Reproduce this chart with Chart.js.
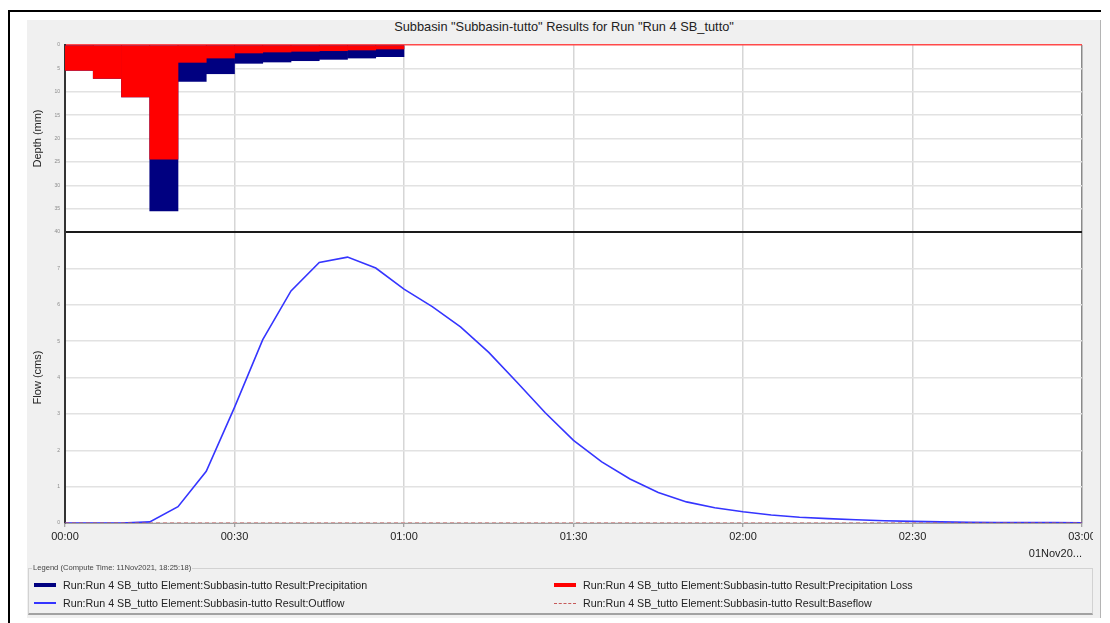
<!DOCTYPE html>
<html>
<head>
<meta charset="utf-8">
<title>Subbasin results</title>
<script src="https://cdn.jsdelivr.net/npm/chart.js@4.4.0/dist/chart.umd.min.js"></script>
<style>
  html, body { margin: 0; padding: 0; background: #fff; width: 1110px; height: 623px; overflow: hidden;
               font-family: "Liberation Sans", Arial, sans-serif; }
  #frame { position: absolute; left: 8px; top: 10px; width: 1093px; height: 620px;
           border-left: 2px solid #000; border-top: 2px solid #000; box-sizing: border-box; }
  #panel { position: absolute; left: 27px; top: 20px; width: 1074px; height: 598px; background: #f0f0f0;
           border-right: 1px solid #b4b4b4; box-sizing: border-box; }
  #title { position: absolute; left: 27px; top: 19px; width: 1074px; text-align: center;
           font-size: 12.8px; color: #222; line-height: 15px; }
  #wrap { position: absolute; left: 27px; top: 20px; width: 1066px; height: 545px; overflow: hidden; }
  #legend { position: absolute; left: 28px; top: 568px; width: 1065px; height: 47px; box-sizing: border-box;
            border: 1px solid #d2d2d2; border-bottom: 2px solid #a2a2a2; background: #f0f0f0; }
  #legend .cap { position: absolute; left: 3px; top: -5px; font-size: 7.6px; line-height: 8px; color: #444;
                 background: #f0f0f0; padding: 0 1px; }
  #legend .item { position: absolute; font-size: 10.7px; line-height: 12px; color: #222; white-space: nowrap; }
  #legend .sw { position: absolute; left: 0; width: 22px; }
  #legend .txt { position: absolute; left: 29px; top: 0; }
</style>
</head>
<body>
<div id="frame"></div>
<div id="panel"></div>
<div id="title">Subbasin "Subbasin-tutto" Results for Run "Run 4 SB_tutto"</div>
<div id="wrap"><canvas id="chart" width="1085" height="545"></canvas></div>
<div id="legend"><span class="cap">Legend (Compute Time: 11Nov2021, 18:25:18)</span></div>

<script>
// Simulation time steps (minutes after 00:00, 01Nov)
const flowTimes = [0, 5, 10, 15, 20, 25, 30, 35, 40, 45, 50, 55, 60, 65, 70, 75, 80, 85, 90,
                   95, 100, 105, 110, 115, 120, 125, 130, 135, 140, 145, 150, 155, 160, 165, 170, 175, 180];
// Outflow hydrograph (cms)
const outflow = [0, 0, 0, 0.03, 0.45, 1.42, 3.18, 5.04, 6.38, 7.16, 7.31, 7.01, 6.43, 5.95, 5.39, 4.69,
                 3.87, 3.03, 2.27, 1.68, 1.21, 0.84, 0.58, 0.42, 0.31, 0.22, 0.16, 0.12, 0.09, 0.06,
                 0.045, 0.03, 0.02, 0.015, 0.01, 0.01, 0.005];
// Baseflow (cms)
const baseflow = [0, 0, 0, 0, 0, 0, 0, 0, 0, 0, 0, 0, 0, 0, 0, 0, 0, 0, 0,
                  0, 0, 0, 0, 0, 0, 0, 0, 0, 0, 0, 0, 0, 0, 0, 0, 0, 0];

// Rainfall intervals: start / end minute of each 5-minute block
const rainStart = [0, 5, 10, 15, 20, 25, 30, 35, 40, 45, 50, 55];
const rainEnd   = [5, 10, 15, 20, 25, 30, 35, 40, 45, 50, 55, 60];
// Depth per interval (mm)
const precipitation = [5.42, 7.14, 11.08, 35.5, 7.78, 6.15, 3.92, 3.64, 3.36, 3.07, 2.79, 2.5];
const precipLoss    = [5.42, 7.14, 11.08, 24.43, 3.71, 2.79, 1.71, 1.5, 1.35, 1.22, 1.07, 0.86];

// Axis ranges / tick steps
const timeMax = 180, timeStep = 30;
const depthMax = 40, depthStep = 5;
const flowMax = 8, flowStep = 1;

const seriesPrefix = 'Run:Run 4 SB_tutto Element:Subbasin-tutto Result:';
const COL = { navy: '#000080', red: '#ff0000', flow: '#3535ff', base: '#c65a5a' };

const hhmm = v => String(Math.floor(v / 60)).padStart(2, '0') + ':' + String(v % 60).padStart(2, '0');
const mid = (a, b) => (a + b) / 2;
const pts = (xs, ys) => xs.map((x, i) => ({ x, y: ys[i] }));
const bars = ys => ys.map((y, i) => ({ x: mid(rainStart[i], rainEnd[i]), y }));

const font = { family: '"Liberation Sans", Arial, sans-serif' };

// White plotting area on the grey panel
const plotBackground = {
  id: 'plotBackground',
  beforeDraw(c) {
    const { ctx, chartArea: a } = c;
    ctx.save();
    ctx.fillStyle = '#ffffff';
    ctx.fillRect(a.left, a.top, a.right - a.left, a.bottom - a.top);
    ctx.restore();
  }
};

const chart = new Chart(document.getElementById('chart'), {
  type: 'line',
  plugins: [plotBackground],
  data: {
    datasets: [
      { type: 'bar', label: seriesPrefix + 'Precipitation', data: bars(precipitation),
        xAxisID: 'x', yAxisID: 'yDepth', backgroundColor: COL.navy, borderWidth: 0,
        barPercentage: 1, categoryPercentage: 1, grouped: false, order: 4, legendSwatch: 'thick' },
      { type: 'bar', label: seriesPrefix + 'Precipitation Loss', data: bars(precipLoss),
        xAxisID: 'x', yAxisID: 'yDepth', backgroundColor: COL.red, borderWidth: 0,
        barPercentage: 1, categoryPercentage: 1, grouped: false, order: 3, legendSwatch: 'thick' },
      { type: 'line', label: seriesPrefix + 'Outflow', data: pts(flowTimes, outflow),
        xAxisID: 'x', yAxisID: 'yFlow', borderColor: COL.flow, borderWidth: 1.6,
        pointRadius: 0, tension: 0, fill: false, order: 2, legendSwatch: 'line' },
      { type: 'line', label: seriesPrefix + 'Baseflow', data: pts(flowTimes, baseflow),
        xAxisID: 'x', yAxisID: 'yFlow', borderColor: COL.base, borderWidth: 1, borderDash: [4, 3],
        pointRadius: 0, tension: 0, fill: false, order: 1, legendSwatch: 'dash' }
    ]
  },
  options: {
    responsive: false,
    animation: false,
    devicePixelRatio: 1,
    layout: { padding: { top: 25, right: 30, left: 0, bottom: 0 } },
    plugins: { legend: { display: false }, tooltip: { enabled: false }, title: { display: false } },
    scales: {
      x: {
        type: 'linear', min: 0, max: timeMax, offset: false,
        ticks: { stepSize: timeStep, callback: v => hhmm(v), color: '#222', padding: 3,
                 maxRotation: 0, autoSkip: false, font: { ...font, size: 11 } },
        grid: {
          offset: false,
          color: c => (c.tick && c.tick.value === timeMax) ? '#8a8a8a' : '#d6d6d6',
          lineWidth: 1.5, drawTicks: true, tickLength: 4, tickColor: '#8a8a8a', tickWidth: 1
        },
        border: { color: '#a0a0a0', width: 1 },
        title: { display: true, text: '01Nov20...', align: 'end', color: '#222',
                 font: { ...font, size: 11 }, padding: { top: 2, bottom: 4 } },
        afterFit: s => { s.height = 42; }
      },
      yFlow: {
        type: 'linear', position: 'left', stack: 'panes', stackWeight: 291, stacked: false,
        min: 0, max: flowMax,
        ticks: { stepSize: flowStep, padding: 5, color: '#8a8a8a', font: { ...font, size: 5 },
                 callback: v => (v === flowMax ? '' : String(v)) },
        grid: {
          color: c => (c.tick && c.tick.value === flowMax) ? 'rgba(0,0,0,0)' : '#e2e2e2',
          lineWidth: 1.5, drawTicks: false
        },
        border: { color: '#333', width: 2 },
        title: { display: true, text: 'Flow (cms)', color: '#222', font: { ...font, size: 11 } },
        afterFit: s => { s.width = 38; }
      },
      yDepth: {
        type: 'linear', position: 'left', stack: 'panes', stackWeight: 187, stacked: false,
        reverse: true, min: 0, max: depthMax,
        ticks: { stepSize: depthStep, padding: 5, color: '#8a8a8a', font: { ...font, size: 5 } },
        grid: {
          color: c => {
            if (!c.tick) return '#e2e2e2';
            if (c.tick.value === 0) return '#ff4a4a';
            if (c.tick.value === depthMax) return '#1a1a1a';
            return '#e2e2e2';
          },
          lineWidth: c => (c.tick && c.tick.value === depthMax) ? 2 : 1.5,
          drawTicks: false
        },
        border: { color: '#333', width: 2 },
        title: { display: true, text: 'Depth (mm)', color: '#222', font: { ...font, size: 11 } },
        afterFit: s => { s.width = 38; }
      }
    }
  }
});

// Legend panel: 2 columns x 2 rows, built from the chart's datasets
(function buildLegend() {
  const box = document.getElementById('legend');
  const slots = [[5, 10], [525, 10], [5, 28], [525, 28]];
  chart.data.datasets.forEach((ds, i) => {
    const item = document.createElement('div');
    item.className = 'item';
    item.style.left = slots[i][0] + 'px';
    item.style.top = slots[i][1] + 'px';
    const sw = document.createElement('span');
    sw.className = 'sw';
    const color = ds.type === 'bar' ? ds.backgroundColor : ds.borderColor;
    if (ds.legendSwatch === 'thick') {
      sw.style.top = '4px'; sw.style.height = '4px'; sw.style.background = color;
    } else if (ds.legendSwatch === 'line') {
      sw.style.top = '5px'; sw.style.height = '2px'; sw.style.background = color;
    } else {
      sw.style.top = '6px'; sw.style.height = '0'; sw.style.borderTop = '1px dashed ' + color;
    }
    const txt = document.createElement('span');
    txt.className = 'txt';
    txt.textContent = ds.label;
    item.appendChild(sw);
    item.appendChild(txt);
    box.appendChild(item);
  });
})();
</script>
</body>
</html>
